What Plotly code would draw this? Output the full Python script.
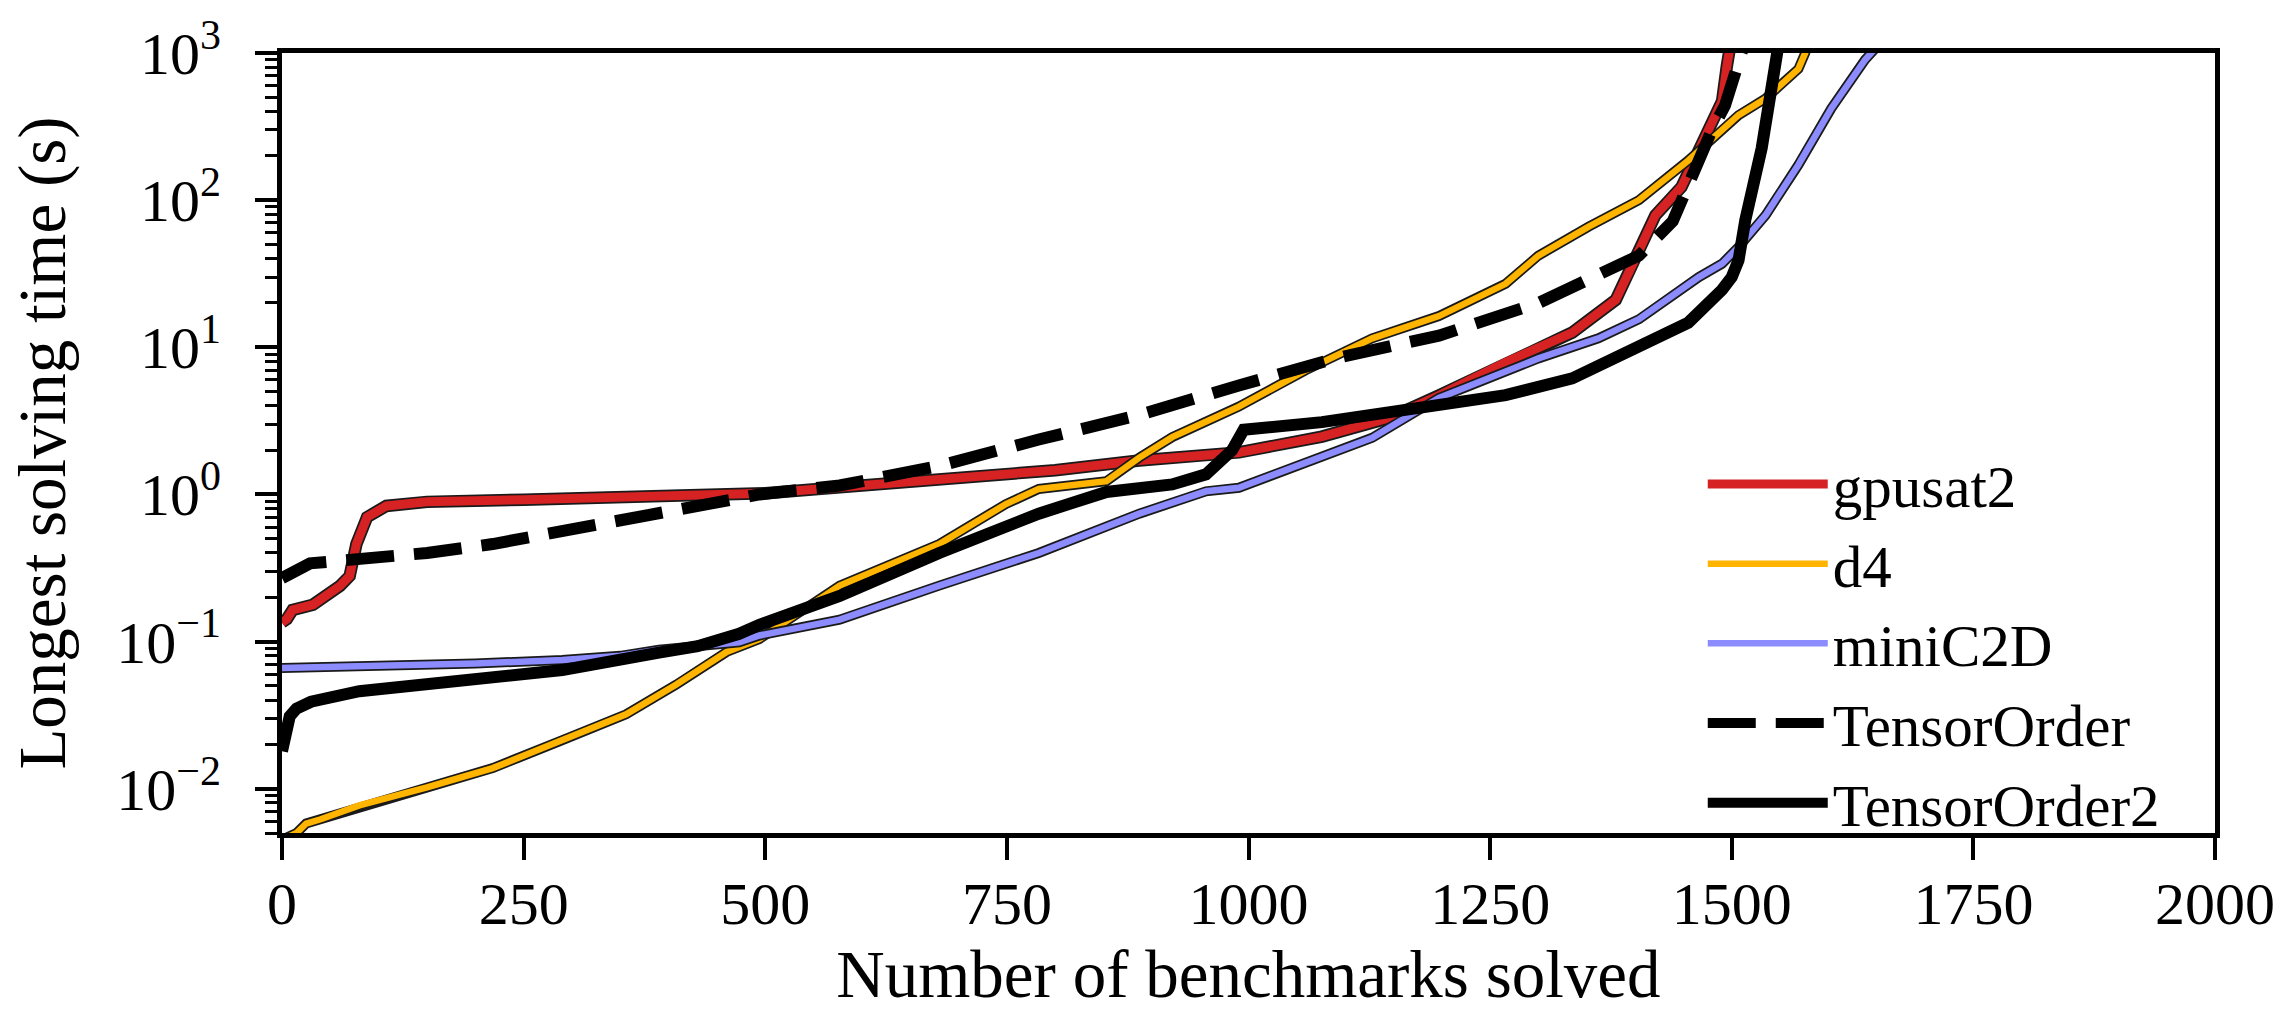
import plotly.graph_objects as go
import numpy as np

# ---------------- data ----------------
gpusat2_n = [0, 5, 11, 32, 60, 70, 77, 88, 108, 150, 250, 350, 460, 500, 600, 714, 800, 887, 990,
             1076, 1145, 1197, 1266, 1335, 1380, 1396, 1421, 1448, 1466, 1479, 1490, 1495, 1497, 1500]
gpusat2_t = [0.135, 0.142, 0.164, 0.178, 0.239, 0.279, 0.46, 0.70, 0.835, 0.89, 0.92, 0.95, 0.975, 1.02,
             1.15, 1.31, 1.46, 1.70, 1.93, 2.47, 3.3, 4.7, 7.9, 12.6, 21, 35, 79, 123, 226, 325, 470, 820,
             1000, 1300]

d4_n = [0, 15, 25, 40, 80, 150, 218, 287, 356, 408, 460, 494, 577, 680, 749, 783, 853, 887, 921, 990,
        1059, 1128, 1197, 1266, 1300, 1352, 1404, 1455, 1507, 1535, 1569, 1576, 1580]
d4_t = [0.0045, 0.0050, 0.0058, 0.0062, 0.0077, 0.0102, 0.0138, 0.021, 0.032, 0.051, 0.085, 0.104, 0.24,
        0.46, 0.86, 1.09, 1.23, 1.78, 2.45, 3.95, 6.97, 11.5, 16.3, 27, 42, 66, 100, 186, 378, 490, 780,
        1000, 1200]

miniC2D_n = [0, 100, 200, 290, 350, 390, 430, 473, 494, 577, 680, 783, 887, 956, 990, 1076, 1128, 1197,
             1300, 1362, 1404, 1466, 1490, 1507, 1535, 1569, 1603, 1638, 1645, 1650]
miniC2D_t = [0.066, 0.068, 0.071, 0.075, 0.080, 0.088, 0.094, 0.099, 0.11, 0.141, 0.24, 0.40, 0.74, 1.05,
             1.11, 1.78, 2.43, 4.52, 8.4, 11.5, 15.5, 30, 37, 48, 79, 174, 420, 900, 1000, 1100]

TensorOrder_n = [0, 5, 29, 63, 150, 218, 287, 356, 425, 494, 577, 680, 783, 887, 990, 1093, 1197, 1300,
                 1352, 1404, 1439, 1462, 1479, 1493, 1503, 1507, 1510, 1512]
TensorOrder_t = [0.27, 0.283, 0.34, 0.356, 0.40, 0.46, 0.56, 0.65, 0.80, 1.0, 1.15, 1.56, 2.36, 3.47, 5.5,
                 8.5, 12, 20, 29, 42, 72, 174, 295, 440, 670, 820, 1000, 1100]

TensorOrder2_n = [0, 3, 8, 15, 30, 80, 180, 290, 390, 430, 473, 494, 577, 680, 783, 853, 921, 956, 983,
                  990, 995, 1076, 1163, 1266, 1335, 1369, 1404, 1455, 1490, 1500, 1507, 1514, 1531, 1541,
                  1545, 1548]
TensorOrder2_t = [0.018, 0.025, 0.031, 0.035, 0.039, 0.046, 0.053, 0.064, 0.084, 0.093, 0.113, 0.13, 0.204,
                  0.40, 0.74, 1.04, 1.17, 1.37, 2.0, 2.5, 2.75, 3.1, 3.75, 4.73, 6.15, 7.9, 9.8, 14.7, 24.6,
                  30, 39, 73, 226, 700, 1000, 1100]

x_ticks = [0, 250, 500, 750, 1000, 1250, 1500, 1750, 2000]
y_ticks = [0.01, 0.1, 1, 10, 100, 1000]
y_ticktext = ["10<sup>\u22122</sup>", "10<sup>\u22121</sup>", "10<sup>0</sup>",
              "10<sup>1</sup>", "10<sup>2</sup>", "10<sup>3</sup>"]

FONT = "Liberation Serif"
OUTLINE = "#1a1a1a"

series = [
    ("gpusat2", gpusat2_n, gpusat2_t, "#d62222", 9, "solid", True),
    ("d4", d4_n, d4_t, "#ffb400", 6.5, "solid", True),
    ("miniC2D", miniC2D_n, miniC2D_t, "#8c8cff", 6.5, "solid", True),
    ("TensorOrder", TensorOrder_n, TensorOrder_t, "black", 12, "48px,20px", False),
    ("TensorOrder2", TensorOrder2_n, TensorOrder2_t, "black", 12, "solid", False),
]

fig = go.Figure()
for name, xs, ys, color, w, dash, outline in series:
    if outline:
        fig.add_trace(go.Scatter(x=xs, y=ys, mode="lines", showlegend=False, hoverinfo="skip",
                                 line=dict(color=OUTLINE, width=w + 3.5)))
    fig.add_trace(go.Scatter(x=xs, y=ys, mode="lines", name=name,
                             line=dict(color=color, width=w, dash=dash)))

minor_vals = []
for d in range(-3, 3):
    for k in range(2, 10):
        v = k * 10.0 ** d
        if 0.005 <= v <= 1000:
            minor_vals.append(v)

fig.update_layout(
    width=2287, height=1012,
    margin=dict(l=282, r=70, t=44, b=179),
    paper_bgcolor="white", plot_bgcolor="white",
    font=dict(family=FONT, size=60, color="black"),
    showlegend=True,
    legend=dict(x=0.735, y=0.505, xanchor="left", yanchor="top", bgcolor="rgba(0,0,0,0)",
                font=dict(family=FONT, size=59), itemwidth=120, tracegroupgap=0),
    xaxis=dict(range=[0, 2000], tickmode="array", tickvals=x_ticks,
               ticks="outside", ticklen=22, tickwidth=4, tickcolor="black",
               showline=True, linewidth=5, linecolor="black", mirror=True,
               showgrid=False, zeroline=False, ticklabelstandoff=-8,
               tickfont=dict(family=FONT, size=60),
               title=dict(text="Number of benchmarks solved", font=dict(family=FONT, size=67), standoff=2)),
    yaxis=dict(type="log", range=[np.log10(0.005), 3], tickmode="array", tickvals=y_ticks,
               ticktext=y_ticktext, ticklabelstandoff=22,
               ticks="outside", ticklen=22, tickwidth=4, tickcolor="black",
               minor=dict(tickmode="array", tickvals=minor_vals, ticks="outside", ticklen=12,
                          tickwidth=3, tickcolor="black", showgrid=False),
               showline=True, linewidth=5, linecolor="black", mirror=True,
               showgrid=False, zeroline=False,
               tickfont=dict(family=FONT, size=60),
               title=dict(text="Longest solving time (s)", font=dict(family=FONT, size=67), standoff=30)),
)

fig.write_html("out.html", config={"displayModeBar": False},
               post_script="document.body.style.margin='0';")
